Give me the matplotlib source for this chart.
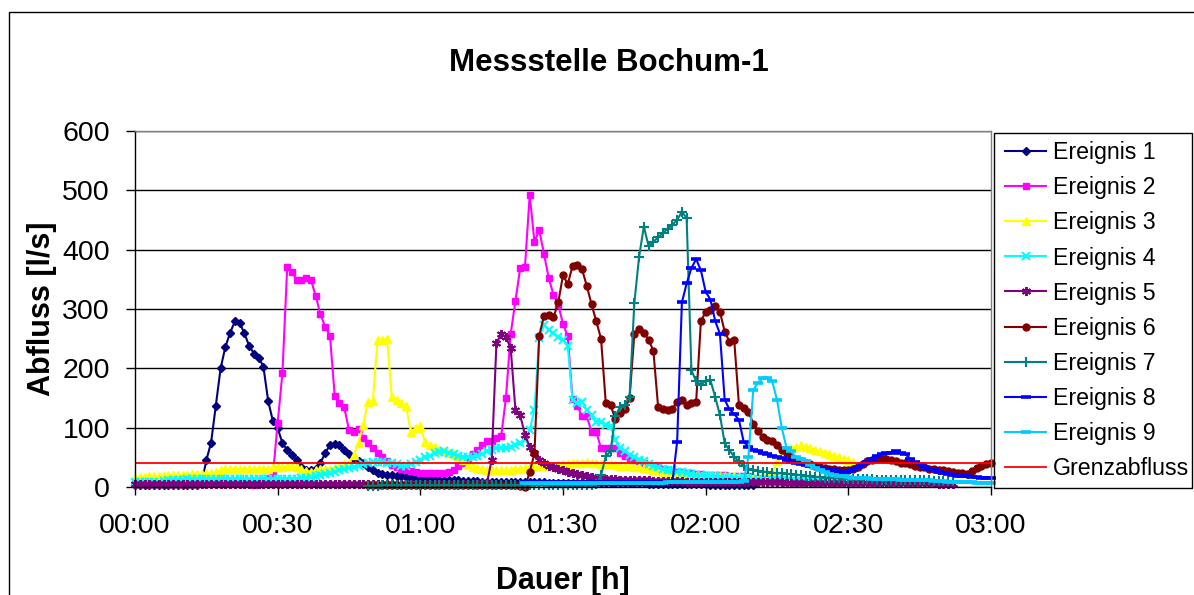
import numpy as np
import matplotlib
matplotlib.use('Agg')
import matplotlib.pyplot as plt
from matplotlib.patches import Rectangle

plt.rcParams['font.family'] = ['Liberation Sans', 'DejaVu Sans']

# Abfluss [l/s] je Minute, jede Reihe beginnt bei ihrer Startminute
e1_start = 0
e1 = [3, 3, 3, 3, 3, 3, 3, 3, 3, 3, 3, 3, 3, 4,
      6,
      45, 75, 137, 200, 236, 260, 279, 277, 259, 238, 225, 218, 203, 145, 111, 99, 74, 62, 54,
      45, 34, 29, 28, 31, 41, 57, 71, 72, 70, 62, 55, 48, 43, 40, 33, 29, 24, 22,
      21, 20, 19, 18, 17, 16, 15, 14,
      13, 13, 12, 12, 12, 11, 11, 11, 10, 10, 10, 10, 9, 9, 9, 9, 9, 9, 8, 8,
      8, 8, 8, 8, 8, 8, 7, 7, 7, 7, 7, 7, 7, 7, 6, 6, 6, 6, 6, 6,
      6, 6, 6, 6, 6, 6, 6, 5, 5, 5, 5, 5, 5, 5, 5, 5, 5, 5, 5, 5, 4, 4, 4, 4, 4, 4, 4, 4, 4, 4]

e2_start = 25
e2 = [3, 6, 10, 16, 20,
      108, 192, 370, 362, 349, 349, 353, 349, 322, 291, 270, 255, 153, 142, 134, 96, 93, 97,
      83, 75, 65, 58, 50, 43, 37, 34, 31, 29,
      27, 25, 24, 23, 23, 23, 23, 24, 26, 29, 35, 41, 48, 55, 62, 70, 77, 78, 82, 86,
      150, 258, 314, 369, 371, 492, 413, 433, 393, 352, 324, 307, 275, 254, 148, 137, 119, 119,
      93, 93, 65, 65, 65, 65,
      57, 53, 49, 46, 43, 40, 37, 35, 33, 31, 29, 27, 26, 25, 24, 23, 22, 22, 21, 21,
      20, 20, 20, 19, 19, 18, 18, 18]

e3_start = 0
e3 = [16, 17, 17, 18, 18, 18, 19, 20, 20, 21, 21, 21, 22, 22, 22, 23, 23,
      25, 28, 30, 30, 30, 30, 30, 30, 30, 30, 30, 31, 33, 34, 34, 35, 35, 33, 30, 27,
      26, 28, 30, 31, 31, 32, 34, 38, 40,
      54, 74, 105, 144, 145, 247, 247, 250, 152, 147, 141, 137, 93, 99, 102,
      76, 71, 68, 63, 60, 57, 55, 50, 46, 37, 34, 32, 30, 29, 28, 28, 28, 29, 29, 30,
      31, 32, 34, 35, 36, 36, 36, 35,
      37, 38, 39, 40, 41, 41, 42, 41, 40, 39, 38, 38, 37, 36, 35, 35, 34, 33, 32, 31,
      29, 27, 25, 23, 21, 20,
      19, 19, 19, 19, 19, 18, 18, 18, 18, 18, 18, 18, 17, 17, 17, 17, 17, 17, 17,
      26, 43, 57, 63, 66, 68, 70, 68, 66, 63, 60, 58, 55, 53, 51, 48, 45, 42]

e4_start = 0
e4 = [8, 8, 8, 9, 9, 9, 10,
      11, 12, 12, 12, 13, 13, 13, 13, 13, 13, 13, 13, 13, 13, 13, 13, 13, 13, 13, 13,
      13, 13, 13, 14, 14, 14, 14,
      14, 15, 16, 17, 18, 20, 22, 24, 26, 28, 30, 32, 34, 36, 38, 40, 42, 42, 42, 41,
      40, 38, 36, 35,
      38, 42, 45, 50, 53, 57, 59, 60, 58, 55, 52, 50, 50, 51, 53, 56, 60, 63, 66, 65,
      65, 67, 70, 74, 79, 96, 130,
      251, 273, 265, 259, 253, 248, 238, 147, 141, 144, 130, 121, 110, 110, 104, 102,
      79, 65, 60, 54, 50, 46, 43, 38, 35, 33, 31, 29, 28, 26, 25, 23, 22, 21, 20, 19,
      19, 18, 17, 17, 16, 16, 15, 15, 15, 14, 14, 13, 12,
      12, 11, 11, 11, 10, 10, 10, 10, 9, 9, 9, 9, 8, 8, 8, 8, 8]

e5_start = 0
e5 = [5, 5, 5, 5, 5, 5, 5, 5, 5, 5, 5, 5, 5, 5, 5, 5, 5, 5, 5, 5,
      5, 5, 5, 5, 5, 5, 5, 5, 5, 5, 5, 5, 5, 5, 5, 5, 5, 5, 5, 5,
      5, 5, 5, 5, 5, 5, 5, 5, 5, 5, 5, 5, 5, 5, 5, 5, 5, 5, 5, 5,
      5, 5, 5, 5, 5, 5, 5, 5, 5, 5, 5, 5, 5, 6,
      6, 46, 242, 258, 253, 234, 130, 121, 88, 68, 57, 46, 40, 35, 33, 30, 28, 25, 23, 22,
      20, 18, 17, 16, 15, 14, 13, 13, 12, 12, 12, 11,
      11, 11, 11, 10, 10, 10, 10, 10, 10, 10, 9, 9, 9, 9, 9, 9, 9, 9, 9, 9,
      8, 8, 8, 8, 8, 8, 8, 8, 8, 8, 8, 7, 7, 7, 7, 7, 7, 7, 7, 7,
      7, 7, 7, 7, 6, 6, 6, 6, 6, 6, 6, 6, 6, 6, 6, 6, 6, 6, 6, 6,
      6, 6, 6, 5, 5, 5, 5]

e6_start = 49
e6 = [3, 3, 3, 3, 3, 3, 3, 3, 3, 3, 3, 3, 3, 3, 3, 3, 3, 3, 3, 3,
      3, 3, 3, 3, 3, 3, 3, 3, 3, 3, 3, 3, 2,
      0, 25, 57, 255, 288, 290, 286, 311, 357, 342, 372, 375, 367, 339, 308, 279, 250,
      141, 138, 115, 125, 131, 150, 258, 266, 260, 248, 230, 135, 131, 130, 132, 144, 147,
      138, 141, 144,
      280, 295, 299, 305, 295, 262, 245, 248, 138, 133, 127, 107, 95, 84, 79,
      77, 70, 62, 57, 51, 46, 43, 41, 39, 36, 34, 32, 31, 30, 29, 28, 28, 30, 34, 39,
      43, 46, 47, 48, 47, 45, 43, 41, 40, 38, 36, 34, 33, 31, 30, 29, 28, 27, 25, 24,
      23, 22, 27, 32, 35, 38, 41]

e7_start = 49
e7 = [2, 2, 2, 3, 3, 3, 3, 3, 3, 3, 3, 3, 3, 3, 3, 3, 3, 3, 3, 3,
      3, 3, 3, 3, 3, 3, 3, 3, 3, 3, 3, 3, 3, 3, 3, 3, 3, 3, 3, 3,
      3, 3, 3, 3, 3, 3, 4, 4, 5,
      20, 52, 60, 119, 135, 138, 152, 310, 388, 439, 406, 413, 421, 428, 435, 442, 450, 464,
      453, 197, 178,
      172, 179, 180, 152, 121, 74, 62, 51, 43, 35, 31, 29, 27, 26, 25, 24, 23, 23, 22, 22,
      21, 20, 19, 18, 17, 17, 16, 16, 15, 15, 14, 14,
      13, 13, 13, 13, 13, 12, 12, 12, 12, 12, 12, 11, 11, 11, 11, 11, 11, 10, 10, 10,
      10, 10]

e8_start = 82
e8 = [8, 8, 8, 8, 8, 9, 9, 9, 9, 9, 9, 9, 9, 9, 9, 9, 9, 9, 9, 9,
      9, 9, 9, 9, 9, 9, 9, 9, 9, 8, 8, 8,
      76, 311, 343, 369, 384, 365, 329, 316, 280, 258, 147, 131, 123, 113, 76, 68, 63, 60,
      57, 55, 53, 51, 49, 46, 42, 40, 39, 37, 35, 33, 32, 30, 29, 28, 27, 26, 27, 29,
      33, 38, 42, 48, 53, 55, 57, 58, 60, 58, 55, 48, 42, 38, 34, 31, 28, 25, 24, 22,
      20, 19, 19, 18, 17, 17, 16, 16, 16]

e9_start = 82
e9 = [6, 6, 6, 6, 6, 6, 6, 6, 6, 7, 7, 7, 7, 7, 7, 7, 7, 7, 7, 7,
      7, 7, 7, 7, 7, 7, 7, 7, 7, 7, 8, 8, 8, 8, 8, 8, 8, 8, 8, 8,
      8, 8, 8, 8, 8, 9,
      10, 51, 163, 176, 183, 183, 178, 147, 100, 66, 60, 50, 47, 43, 37, 32, 28, 25, 22, 20,
      19, 18, 17, 16, 16, 15, 15, 14, 14, 13, 13, 13, 13, 12, 12, 12, 12, 11, 11, 11,
      10, 10, 10, 9, 9, 9, 8, 8, 8, 7, 7, 7, 6]

grenzabfluss = 41

tick_minutes = [0, 30, 60, 90, 120, 150, 180]
tick_labels = ['00:00', '00:30', '01:00', '01:30', '02:00', '02:30', '03:00']

W, H = 1194, 595
fig = plt.figure(figsize=(W / 100, H / 100), dpi=100)
ax = fig.add_axes([135 / W, 1 - 487 / H, (991 - 135) / W, (487 - 131) / H])

series = [
    ('Ereignis 1', e1_start, e1, '#000080', 'D', 4.5, 1.0),
    ('Ereignis 2', e2_start, e2, '#FF00FF', 's', 5, 1.0),
    ('Ereignis 3', e3_start, e3, '#FFFF00', '^', 6, 1.0),
    ('Ereignis 4', e4_start, e4, '#00FFFF', 'x', 5.5, 1.5),
    ('Ereignis 5', e5_start, e5, '#800080', (6, 2, 0), 6.5, 1.4),
    ('Ereignis 6', e6_start, e6, '#800000', 'o', 5, 1.0),
    ('Ereignis 7', e7_start, e7, '#008080', '+', 7, 1.5),
    ('Ereignis 8', e8_start, e8, '#0000FF', '_', 7, 2.6),
    ('Ereignis 9', e9_start, e9, '#00CCFF', '_', 7, 2.6),
]

for name, start, vals, col, mk, ms, mew in series:
    x = np.arange(start, start + len(vals))
    ax.plot(x, vals, color=col, lw=1.5, marker=mk, markersize=ms,
            markerfacecolor=col, markeredgecolor=col, markeredgewidth=mew,
            label=name, clip_on=False)

ax.axhline(grenzabfluss, color='#FF0000', lw=1.3, label='Grenzabfluss')

ax.set_xlim(0, 180)
ax.set_ylim(0, 600)
ax.set_xticks(tick_minutes)
ax.set_xticklabels(tick_labels)
ax.set_yticks(range(0, 601, 100))
ax.yaxis.grid(True, color='black', lw=1)
ax.set_axisbelow(True)

ax.tick_params(axis='x', direction='out', length=6, width=1, pad=13, labelsize=20.5)
ax.tick_params(axis='y', direction='out', length=6.5, width=1, pad=11.5, labelsize=20.5)
for s in ['left', 'bottom']:
    ax.spines[s].set_color('black')
    ax.spines[s].set_linewidth(1)
for s in ['top', 'right']:
    ax.spines[s].set_color('#808080')
    ax.spines[s].set_linewidth(1)

# legend entries without own frame, the box is drawn separately
leg = ax.legend(loc='upper left', bbox_to_anchor=(997 / W, 1 - 133 / H),
                bbox_transform=fig.transFigure, borderaxespad=0, fontsize=16.7,
                frameon=False, handlelength=1.75, handletextpad=0.32,
                labelspacing=0.52, borderpad=0.36)
fig.add_artist(Rectangle((994 / W, 1 - 488 / H), (1192 - 994) / W, (488 - 133) / H,
                         transform=fig.transFigure, fill=False, ec='black', lw=1))

fig.text(608.5 / W, 1 - 70.7 / H, 'Messstelle Bochum-1', ha='center', va='baseline',
         fontsize=22.5, fontweight='bold')
fig.text(563 / W, 1 - 589 / H, 'Dauer [h]', ha='center', va='baseline',
         fontsize=22, fontweight='bold')
fig.text(42 / W, 1 - 309 / H, 'Abfluss [l/s]', ha='center', va='center', rotation=90,
         fontsize=22, fontweight='bold')

fig.add_artist(Rectangle((8.5 / W, -0.5), 2, 0.5 + 1 - 11.5 / H, transform=fig.transFigure,
                         fill=False, ec='black', lw=1))

fig.savefig('out.png', dpi=100)
